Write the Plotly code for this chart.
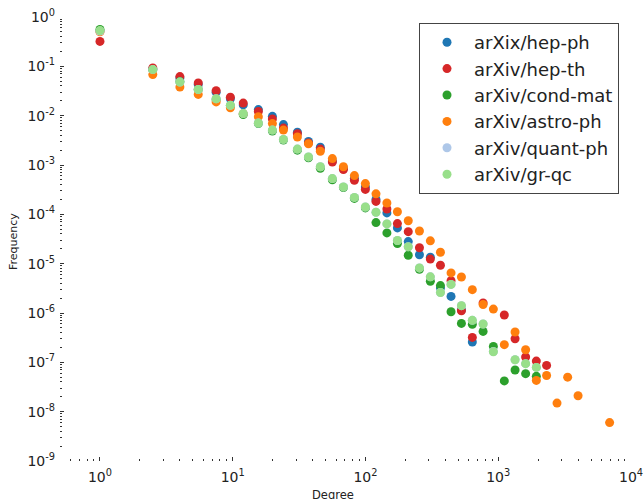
import plotly.graph_objects as go
import math

N = None
degree = [1, 2.5, 4, 5.5, 7.5, 9.6, 12, 15.6, 19.9, 24.1, 30.7, 37.2, 45.7, 56.3, 68.2, 82.5,
          99.8, 120, 145, 174, 210, 255, 308, 367, 441, 528, 638, 769, 919, 1111, 1339, 1608,
          1936, 2314, 2771, 3333, 3993, 6902]

hep_ph = [0.52, 0.088, 0.058, 0.043, 0.030, 0.022, 0.0165, 0.0133, 0.0097, 0.0066, 0.0046, 0.0030,
          0.0023, 0.0012, 0.00085, 0.00054, 0.00036, 0.0002, 0.000107, 5.3e-5, 2.8e-5, 1.52e-5,
          1.35e-5, 3.2e-6, 2.17e-6, 1.15e-6, 2.58e-7, N, N, N, N, N, N, N, N, N, N, N]
hep_th = [0.32, 0.093, 0.062, 0.046, 0.032, 0.0236, 0.018, 0.0122, 0.0086, 0.0056, 0.0043, 0.0028,
          0.0021, 0.00115, 0.00081, 0.00049, 0.00032, 0.000183, 0.000128, 6.5e-5, 4.45e-5, 2.1e-5,
          1.24e-5, 9.3e-6, 4.5e-6, 1.11e-6, 3.2e-7, 1.6e-6, N, 9.1e-7, 3.01e-7, 1.28e-7, 1.06e-7,
          8.65e-8, N, N, N, N]
cond_mat = [0.56, 0.085, 0.049, 0.034, 0.021, 0.0158, 0.0105, 0.0069, 0.0049, 0.0032, 0.0020, 0.0014,
            0.00086, 0.0005, 0.00035, 0.00021, 0.000135, 6.8e-5, 4.2e-5, 2.56e-5, 1.48e-5, 7.7e-6,
            4.4e-6, 3.6e-6, 1.06e-6, 6.15e-7, 5.9e-7, 4.23e-7, 2.1e-7, 4.2e-8, 6.98e-8, 5.9e-8, 5.2e-8,
            N, N, N, N, N]
astro_ph = [0.50, 0.068, 0.038, 0.027, 0.019, 0.0144, 0.011, 0.0095, 0.0069, 0.0051, 0.0037, 0.0027,
            0.0019, 0.00135, 0.00092, 0.00061, 0.00042, 0.00026, 0.00017, 0.000113, 7.4e-5, 4.6e-5,
            2.9e-5, 1.7e-5, 6.5e-6, 5.37e-6, 2.97e-6, 1.49e-6, 1.2e-6, 2.28e-7, 4.12e-7, 1.8e-7, 4.3e-8,
            5.4e-8, 1.49e-8, 5.0e-8, 2.1e-8, 6.0e-9]
quant_ph = [0.52, 0.086, 0.048, 0.034, 0.022, 0.0162, 0.011, 0.0071, 0.0051, 0.0033, 0.0021, 0.00146,
            0.00092, 0.00053, 0.00036, 0.00022, 0.00014, 0.00011, 6.4e-5, 2.95e-5, 2.2e-5, 8.2e-6,
            5.4e-6, 2.6e-6, 3.8e-6, 1.41e-6, 7.1e-7, 5.98e-7, 1.66e-7, N, 1.13e-7, 9.4e-8, 7.9e-8,
            N, N, N, N, N]
gr_qc = [0.53, 0.086, 0.048, 0.034, 0.022, 0.0163, 0.011, 0.0071, 0.0051, 0.0033, 0.0021, 0.00146,
         0.00092, 0.00053, 0.00036, 0.00022, 0.000141, 0.00011, 6.4e-5, 2.95e-5, 2.2e-5, 8.2e-6,
         5.4e-6, 2.6e-6, 3.8e-6, 1.41e-6, 7.1e-7, 5.98e-7, 1.64e-7, N, 1.13e-7, 9.4e-8, 7.9e-8,
         N, N, N, N, N]

series_names = ["arXix/hep-ph", "arXiv/hep-th", "arXiv/cond-mat", "arXiv/astro-ph",
                "arXiv/quant-ph", "arXiv/gr-qc"]
series_values = [hep_ph, hep_th, cond_mat, astro_ph, quant_ph, gr_qc]
colors = ["#1f77b4", "#d62728", "#2ca02c", "#ff7f0e", "#aec7e8", "#98df8a"]

x_tick_exps = [0, 1, 2, 3, 4]
y_tick_exps = [-9, -8, -7, -6, -5, -4, -3, -2, -1, 0]

W, H = 644, 499
ML, MR, MT, MB = 60, 13, 17, 38
pw, ph = W - ML - MR, H - MT - MB

fig = go.Figure()
for name, vals, col in zip(series_names, series_values, colors):
    xs = [d for d, v in zip(degree, vals) if v is not None]
    ys = [v for v in vals if v is not None]
    fig.add_trace(go.Scatter(x=xs, y=ys, mode="markers", name=name,
                             marker=dict(color=col, size=9, line=dict(width=0))))

def minor_vals(lo, hi):
    out = []
    for e in range(lo, hi + 1):
        for k in range(2, 10):
            out.append(k * 10.0 ** e)
    return out

tick_font = dict(family="DejaVu Sans", size=14, color="#222")
fig.update_xaxes(type="log", range=[math.log10(0.5), 4],
                 tickmode="array", tickvals=[10.0 ** e for e in x_tick_exps],
                 ticktext=["10<sup>%d</sup>" % e for e in x_tick_exps],
                 ticks="inside", ticklen=4, tickwidth=1, tickcolor="#333",
                 minor=dict(tickmode="array", tickvals=minor_vals(-1, 3), ticks="inside",
                            ticklen=2, tickwidth=1, tickcolor="#333", showgrid=False),
                 showgrid=False, zeroline=False, showline=False, tickfont=tick_font,
                 ticklabelstandoff=6, automargin=False)
fig.update_yaxes(type="log", range=[-9, 0],
                 tickmode="array", tickvals=[10.0 ** e for e in y_tick_exps],
                 ticktext=["10<sup>%d</sup>" % e for e in y_tick_exps],
                 ticks="inside", ticklen=4, tickwidth=1, tickcolor="#333",
                 minor=dict(tickmode="array", tickvals=minor_vals(-9, -1), ticks="inside",
                            ticklen=2, tickwidth=1, tickcolor="#333", showgrid=False),
                 showgrid=False, zeroline=False, showline=False, tickfont=tick_font,
                 ticklabelstandoff=4, automargin=False)

title_font = dict(family="DejaVu Sans", size=11.5, color="#222")
fig.add_annotation(text="Degree", xref="paper", yref="paper",
                   x=(333 - ML) / pw, y=(H - MB - 494.5) / ph,
                   xanchor="center", yanchor="middle", showarrow=False, font=title_font)
fig.add_annotation(text="Frequency", xref="paper", yref="paper",
                   x=(13 - ML) / pw, y=(H - MB - 242) / ph, textangle=-90,
                   xanchor="center", yanchor="middle", showarrow=False,
                   font=dict(family="DejaVu Sans", size=11, color="#222"))

fig.update_layout(
    width=W, height=H, autosize=False,
    margin=dict(l=ML, r=MR, t=MT, b=MB, pad=0),
    plot_bgcolor="white", paper_bgcolor="white",
    font=dict(family="DejaVu Sans", color="#222"),
    legend=dict(x=(419 - ML) / pw, y=(H - MB - 23) / ph, xanchor="left", yanchor="top",
                bordercolor="#444", borderwidth=1, bgcolor="white",
                font=dict(family="DejaVu Sans", size=18, color="#222"),
                itemwidth=44, tracegroupgap=0),
)

fig.write_html("out.html", config={"displayModeBar": False},
               post_script="document.body.style.margin='0px';document.body.style.overflow='hidden';")
